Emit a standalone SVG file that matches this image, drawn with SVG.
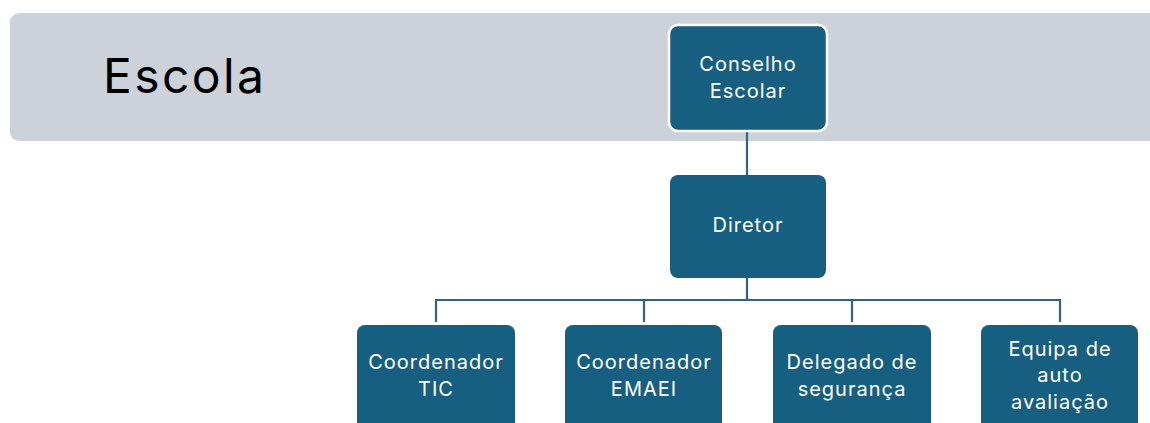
<svg xmlns="http://www.w3.org/2000/svg" width="1150" height="423" viewBox="0 0 1150 423">
  <style>
    .band { fill: #cdd2da; }
    .title { font-family: Inter, "Noto Sans", sans-serif; font-size: 48px; letter-spacing: 2.4px; fill: #000; }
    .box { fill: #175f80; }
    .top { stroke: #ffffff; stroke-width: 2.5; }
    .label { font-family: Inter, "Noto Sans", sans-serif; font-size: 20px; letter-spacing: 1px; fill: #ffffff; text-anchor: middle; }
    .conn { fill: none; stroke: #2b6584; stroke-width: 2.2; }
  </style>
  <rect class="band" x="10" y="13" width="1160" height="128" rx="9"/>
  <text class="title" x="103" y="93">Escola</text>

  <g id="connectors">
    <path class="conn" d="M747 131 V175"/>
    <path class="conn" d="M747 278 V300"/>
    <path class="conn" d="M436 322 V300 H1060 V322"/>
    <path class="conn" d="M644 300 V322"/>
    <path class="conn" d="M852 300 V322"/>
  </g>

  <g id="conselho">
    <rect class="box top" x="669" y="25" width="158" height="106" rx="9"/>
    <text class="label" x="748" y="71">Conselho</text>
    <text class="label" x="748" y="98">Escolar</text>
  </g>
  <g id="diretor">
    <rect class="box" x="670" y="175" width="156" height="103" rx="8"/>
    <text class="label" x="748" y="232">Diretor</text>
  </g>
  <g id="coord-tic">
    <rect class="box" x="357" y="325" width="158" height="110" rx="8"/>
    <text class="label" x="436" y="369">Coordenador</text>
    <text class="label" x="436" y="396">TIC</text>
  </g>
  <g id="coord-emaei">
    <rect class="box" x="565" y="325" width="157" height="110" rx="8"/>
    <text class="label" x="644" y="369">Coordenador</text>
    <text class="label" x="644" y="396">EMAEI</text>
  </g>
  <g id="delegado">
    <rect class="box" x="773" y="325" width="158" height="110" rx="8"/>
    <text class="label" x="852" y="369">Delegado de</text>
    <text class="label" x="852" y="396">segurança</text>
  </g>
  <g id="equipa">
    <rect class="box" x="981" y="325" width="157" height="110" rx="8"/>
    <text class="label" x="1060" y="356">Equipa de</text>
    <text class="label" x="1060" y="382">auto</text>
    <text class="label" x="1060" y="409">avaliação</text>
  </g>
</svg>
